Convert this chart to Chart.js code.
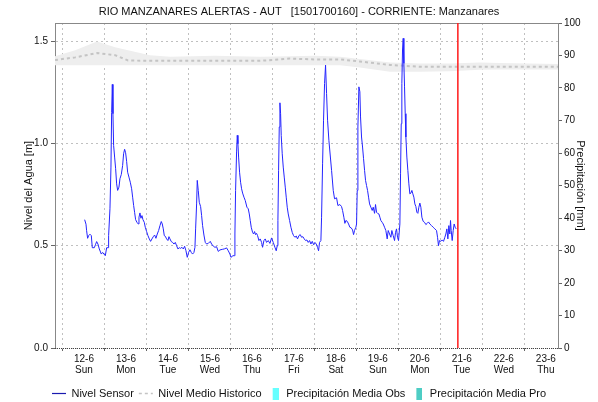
<!DOCTYPE html>
<html>
<head>
<meta charset="utf-8">
<script src="https://cdn.jsdelivr.net/npm/chart.js@4/dist/chart.umd.min.js"></script>
<style>
  html, body { margin: 0; padding: 0; background: #fff; }
</style>
</head>
<body>
<canvas id="chart" width="598" height="402"></canvas>
<script>
// x axis: days of June
const dayTicks = [12, 13, 14, 15, 16, 17, 18, 19, 20, 21, 22, 23];
const dayLabels = ['12-6', '13-6', '14-6', '15-6', '16-6', '17-6', '18-6', '19-6', '20-6', '21-6', '22-6', '23-6'];
const weekDays = ['Sun', 'Mon', 'Tue', 'Wed', 'Thu', 'Fri', 'Sat', 'Sun', 'Mon', 'Tue', 'Wed', 'Thu'];

// water level sensor (day of month, metres)
const sensorDays = [
  12.016, 12.048, 12.063, 12.087, 12.111, 12.143, 12.175, 12.198, 12.246, 12.278,
  12.302, 12.333, 12.365, 12.413, 12.444, 12.476, 12.508, 12.540, 12.579, 12.587,
  12.619, 12.643, 12.659, 12.675, 12.690, 12.706, 12.730, 12.754, 12.778, 12.802,
  12.833, 12.857, 12.889, 12.921, 12.944, 12.968, 12.992, 13.016, 13.040, 13.071,
  13.103, 13.135, 13.159, 13.183, 13.206, 13.230, 13.262, 13.294, 13.310, 13.333,
  13.357, 13.381, 13.405, 13.437, 13.460, 13.492, 13.524, 13.556, 13.587, 13.619,
  13.651, 13.683, 13.714, 13.746, 13.778, 13.810, 13.841, 13.865, 13.889, 13.913,
  13.937, 13.968, 14.000, 14.024, 14.048, 14.079, 14.111, 14.143, 14.175, 14.206,
  14.238, 14.270, 14.302, 14.333, 14.365, 14.397, 14.429, 14.460, 14.492, 14.524,
  14.556, 14.587, 14.619, 14.643, 14.659, 14.683, 14.698, 14.722, 14.746, 14.778,
  14.802, 14.825, 14.857, 14.889, 14.921,
  14.960, 15.008, 15.040, 15.079, 15.119, 15.159, 15.198, 15.238, 15.294, 15.341,
  15.397, 15.437, 15.476, 15.500, 15.548, 15.587, 15.595, 15.611, 15.635, 15.651,
  15.667, 15.683, 15.706, 15.730, 15.754, 15.778, 15.810, 15.841, 15.881, 15.913,
  15.937, 15.960, 15.984, 16.016, 16.040, 16.063, 16.087, 16.111, 16.135, 16.167,
  16.198, 16.230, 16.254, 16.286, 16.317, 16.349, 16.389, 16.429, 16.468, 16.508,
  16.548, 16.579, 16.603, 16.619, 16.635, 16.651, 16.667, 16.683, 16.698, 16.722,
  16.746, 16.770, 16.794, 16.817, 16.841, 16.865, 16.897, 16.929, 16.960, 16.992,
  17.024, 17.056, 17.087, 17.119, 17.151, 17.183, 17.214, 17.246, 17.278, 17.310,
  17.341, 17.373, 17.405, 17.437, 17.468, 17.500, 17.532, 17.563, 17.587, 17.611,
  17.643, 17.659, 17.683, 17.706, 17.730, 17.754, 17.778, 17.802, 17.833, 17.897,
  17.937, 17.968, 18.016, 18.048, 18.095, 18.135, 18.159, 18.190, 18.214, 18.238,
  18.270, 18.302, 18.333, 18.365, 18.397, 18.421, 18.444, 18.476, 18.492, 18.508,
  18.524, 18.548, 18.571, 18.587, 18.611, 18.635, 18.659, 18.683, 18.706, 18.730,
  18.754, 18.778, 18.802, 18.833, 18.865, 18.889, 18.921, 18.944, 18.968, 18.992,
  19.024, 19.048, 19.071, 19.103, 19.127, 19.159, 19.190, 19.222, 19.246, 19.278,
  19.310, 19.333, 19.365, 19.397, 19.421, 19.444, 19.468, 19.492, 19.524, 19.540,
  19.556, 19.571, 19.587, 19.603, 19.619, 19.635, 19.651, 19.667, 19.690, 19.714,
  19.738, 19.762, 19.786, 19.810, 19.833, 19.857, 19.881, 19.905, 19.929, 19.952,
  19.976, 20.000, 20.024, 20.048, 20.079, 20.111, 20.143, 20.175, 20.206, 20.238,
  20.278, 20.317, 20.357, 20.397, 20.421, 20.444, 20.468, 20.500, 20.532, 20.563,
  20.595, 20.619, 20.643, 20.667, 20.690, 20.714, 20.730, 20.746, 20.770, 20.794,
  20.817, 20.841, 20.865
];
const sensorLevel = [
  0.627, 0.605, 0.573, 0.536, 0.549, 0.556, 0.549, 0.490, 0.490, 0.507,
  0.520, 0.508, 0.484, 0.459, 0.467, 0.459, 0.451, 0.490, 0.490, 0.549,
  0.680, 0.884, 1.150, 1.288, 1.145, 0.990, 0.933, 0.876, 0.802, 0.770,
  0.786, 0.827, 0.848, 0.892, 0.949, 0.971, 0.954, 0.912, 0.859, 0.835,
  0.810, 0.778, 0.737, 0.696, 0.663, 0.627, 0.614, 0.606, 0.639, 0.660,
  0.634, 0.647, 0.627, 0.614, 0.590, 0.569, 0.549, 0.533, 0.521, 0.533,
  0.544, 0.552, 0.536, 0.557, 0.574, 0.598, 0.618, 0.606, 0.582, 0.549,
  0.546, 0.533, 0.525, 0.544, 0.533, 0.520, 0.516, 0.508, 0.516, 0.500,
  0.484, 0.490, 0.487, 0.492, 0.484, 0.497, 0.475, 0.443, 0.467, 0.480,
  0.467, 0.459, 0.467, 0.492, 0.582, 0.704, 0.819, 0.770, 0.712, 0.691,
  0.647, 0.598, 0.552, 0.516, 0.508,
  0.511, 0.521, 0.508, 0.498, 0.492, 0.495, 0.472, 0.479, 0.482, 0.484,
  0.489, 0.475, 0.459, 0.443, 0.451, 0.451, 0.557, 0.770, 0.958, 1.039,
  0.998, 0.933, 0.859, 0.810, 0.778, 0.757, 0.737, 0.721, 0.688, 0.680,
  0.655, 0.623, 0.590, 0.565, 0.557, 0.569, 0.554, 0.560, 0.549, 0.525,
  0.533, 0.516, 0.492, 0.525, 0.533, 0.516, 0.525, 0.511, 0.538, 0.516,
  0.492, 0.475, 0.500, 0.623, 0.868, 1.080, 1.198, 1.145, 1.039, 0.949,
  0.884, 0.835, 0.786, 0.737, 0.688, 0.655, 0.623, 0.590, 0.565, 0.549,
  0.541, 0.547, 0.533, 0.549, 0.554, 0.541, 0.544, 0.533, 0.525, 0.528,
  0.516, 0.525, 0.508, 0.521, 0.505, 0.516, 0.508, 0.492, 0.475, 0.516,
  0.525, 0.639, 0.900, 1.113, 1.292, 1.382, 1.243, 1.113, 1.015, 0.868,
  0.770, 0.729, 0.734, 0.696, 0.701, 0.691, 0.672, 0.639, 0.609, 0.623,
  0.619, 0.606, 0.590, 0.587, 0.577, 0.554, 0.574, 0.590, 0.606, 0.770,
  1.080, 1.276, 1.252, 1.129, 1.031, 0.982, 0.925, 0.868, 0.819, 0.794,
  0.770, 0.737, 0.704, 0.688, 0.672, 0.688, 0.658, 0.701, 0.663, 0.658,
  0.655, 0.639, 0.623, 0.614, 0.606, 0.590, 0.574, 0.533, 0.574, 0.557,
  0.541, 0.574, 0.549, 0.525, 0.565, 0.582, 0.541, 0.525, 0.606, 0.851,
  1.096, 1.292, 1.456, 1.513, 1.391, 1.276, 1.145, 1.031, 0.933, 0.868,
  0.802, 0.753, 0.757, 0.770, 0.753, 0.737, 0.704, 0.691, 0.663, 0.658,
  0.688, 0.708, 0.688, 0.639, 0.619, 0.614, 0.603, 0.609, 0.616, 0.606,
  0.598, 0.590, 0.582, 0.574, 0.541, 0.500, 0.525, 0.521, 0.528, 0.521,
  0.541, 0.557, 0.582, 0.533, 0.598, 0.557, 0.623, 0.574, 0.525, 0.574,
  0.606, 0.590, 0.582
];

// historic mean level and its band
const histDays  = [11.31, 11.79, 12.31, 12.74, 13.05, 13.57, 14.05, 15.12, 16.19, 16.9, 17.5, 18.1, 18.57, 19.29, 20.0, 20.71, 21.43, 21.9, 23.29];
const histMean  = [1.407, 1.420, 1.441, 1.431, 1.405, 1.403, 1.403, 1.403, 1.403, 1.414, 1.410, 1.410, 1.400, 1.383, 1.374, 1.374, 1.374, 1.374, 1.374];
const histUpper = [1.426, 1.455, 1.497, 1.470, 1.455, 1.431, 1.423, 1.428, 1.423, 1.426, 1.428, 1.423, 1.412, 1.395, 1.390, 1.390, 1.395, 1.392, 1.388];
const histLower = [1.382, 1.382, 1.382, 1.382, 1.382, 1.382, 1.382, 1.382, 1.382, 1.382, 1.382, 1.382, 1.370, 1.350, 1.350, 1.352, 1.360, 1.361, 1.361];

// precipitation (nothing recorded in this window)
const precipObs = [];
const precipPro = [];

const nowDay = 20.905;
const dayMin = 11.31, dayMax = 23.29;
const levelMax = 1.588;
const precipMax = 100;

const FONT = "'Liberation Sans', Arial, sans-serif";
Chart.defaults.font.family = FONT;
Chart.defaults.color = '#111';

function pairs(xs, ys) {
    const n = Math.min(xs.length, ys.length);
    const out = [];
    for (let i = 0; i < n; i++) out.push({ x: xs[i], y: ys[i] });
    return out;
}

// narrow colour box used in the legend
function swatch(color) {
    const c = document.createElement('canvas');
    c.width = 10;
    c.height = 12;
    const g = c.getContext('2d');
    g.fillStyle = color;
    g.fillRect(4, 0, 6, 12);
    return c;
}

// top border and dotted bottom axis
const frame = {
    id: 'frame',
    beforeDatasetsDraw(chart) {
        const { ctx, chartArea: a } = chart;
        ctx.save();
        ctx.lineWidth = 1;
        ctx.strokeStyle = '#888';
        ctx.beginPath();
        ctx.moveTo(a.left, a.top + 0.5);
        ctx.lineTo(a.right, a.top + 0.5);
        ctx.stroke();
        ctx.strokeStyle = '#444';
        ctx.setLineDash([1, 1]);
        ctx.beginPath();
        ctx.moveTo(a.left, a.bottom + 0.5);
        ctx.lineTo(a.right, a.bottom + 0.5);
        ctx.stroke();
        ctx.restore();
    }
};

const chart = new Chart(document.getElementById('chart'), {
    type: 'line',
    data: {
        datasets: [
            {
                label: 'Nivel Sensor',
                data: pairs(sensorDays, sensorLevel),
                borderColor: '#2424ff',
                borderWidth: 1,
                pointRadius: 0,
                tension: 0,
                fill: false,
                order: 1,
                legendStyle: { point: 'line', stroke: '#1a1ab0', width: 1.2 }
            },
            {
                label: 'Nivel Medio Historico',
                data: pairs(histDays, histMean),
                borderColor: '#c4c4c4',
                borderWidth: 2,
                borderDash: [3, 3],
                pointRadius: 0,
                fill: false,
                order: 3,
                legendStyle: { point: 'line', stroke: '#c4c4c4', width: 1.5, dash: [3, 3] }
            },
            {
                label: 'Precipitación Media Obs',
                type: 'bar',
                yAxisID: 'y1',
                data: precipObs,
                backgroundColor: '#66ffff',
                legendStyle: { point: swatch('#66ffff') }
            },
            {
                label: 'Precipitación Media Pro',
                type: 'bar',
                yAxisID: 'y1',
                data: precipPro,
                backgroundColor: '#4ecdc4',
                legendStyle: { point: swatch('#4ecdc4') }
            },
            {
                label: 'upper',
                data: pairs(histDays, histUpper),
                borderWidth: 0,
                pointRadius: 0,
                fill: false,
                order: 4
            },
            {
                label: 'lower',
                data: pairs(histDays, histLower),
                borderWidth: 0,
                pointRadius: 0,
                backgroundColor: '#eeeeee',
                fill: 4,
                order: 5
            },
            {
                label: 'now',
                data: [{ x: nowDay, y: 0 }, { x: nowDay, y: levelMax }],
                borderColor: '#ff1a1a',
                borderWidth: 1.5,
                pointRadius: 0,
                fill: false,
                order: 0
            }
        ]
    },
    options: {
        responsive: false,
        animation: false,
        layout: { padding: { top: 0, left: 0, right: 0, bottom: -7 } },
        plugins: {
            title: {
                display: true,
                text: 'RIO MANZANARES ALERTAS - AUT   [1501700160] - CORRIENTE: Manzanares',
                color: '#111',
                font: { size: 11, weight: 'normal' },
                padding: { top: 5, bottom: 4.8 }
            },
            legend: {
                position: 'bottom',
                labels: {
                    usePointStyle: true,
                    pointStyleWidth: 14,
                    boxHeight: 11,
                    padding: 5,
                    color: '#111',
                    font: { size: 11 },
                    generateLabels: chart => chart.data.datasets
                        .map((ds, i) => ({ ds, i }))
                        .filter(o => o.ds.legendStyle)
                        .map(({ ds, i }) => ({
                            text: ds.label,
                            datasetIndex: i,
                            fillStyle: ds.backgroundColor || 'transparent',
                            strokeStyle: ds.legendStyle.stroke || 'transparent',
                            lineWidth: ds.legendStyle.width || 0,
                            lineDash: ds.legendStyle.dash || [],
                            pointStyle: ds.legendStyle.point,
                            fontColor: '#111',
                            hidden: false
                        }))
                }
            },
            tooltip: { enabled: false }
        },
        scales: {
            x: {
                type: 'linear',
                min: dayMin,
                max: dayMax,
                offset: false,
                afterBuildTicks: scale => {
                    scale.ticks = dayTicks.map(v => ({ value: v }));
                },
                afterFit: scale => { scale.height = 35; },
                ticks: {
                    autoSkip: false,
                    maxRotation: 0,
                    padding: 2,
                    font: { size: 10, lineHeight: 1.15 },
                    callback: v => {
                        const i = dayTicks.indexOf(v);
                        return i < 0 ? '' : [dayLabels[i], weekDays[i]];
                    }
                },
                grid: {
                    color: '#c0c0c0',
                    tickLength: 3,
                    tickColor: '#666',
                    tickBorderDash: []
                },
                border: { display: false, dash: [2, 3] }
            },
            y: {
                position: 'left',
                min: 0,
                max: levelMax,
                afterFit: scale => { scale.width = 55; },
                ticks: {
                    stepSize: 0.5,
                    includeBounds: false,
                    padding: 3,
                    font: { size: 10 },
                    callback: v => v.toFixed(1)
                },
                title: {
                    display: true,
                    text: 'Nivel del Agua [m]',
                    font: { size: 11 },
                    padding: { top: 22, bottom: 0 }
                },
                grid: {
                    color: '#c0c0c0',
                    tickLength: 4,
                    tickColor: '#666',
                    tickBorderDash: []
                },
                border: { color: '#888', dash: [2, 3] }
            },
            y1: {
                position: 'right',
                min: 0,
                max: precipMax,
                afterFit: scale => { scale.width = 40; },
                ticks: {
                    stepSize: 10,
                    padding: 2,
                    font: { size: 10 }
                },
                title: {
                    display: true,
                    text: 'Precipitación [mm]',
                    font: { size: 11 },
                    padding: { top: 11, bottom: 0 }
                },
                grid: {
                    drawOnChartArea: false,
                    tickLength: 4,
                    tickColor: '#666'
                },
                border: { color: '#888' }
            }
        }
    },
    plugins: [frame]
});
</script>
</body>
</html>
